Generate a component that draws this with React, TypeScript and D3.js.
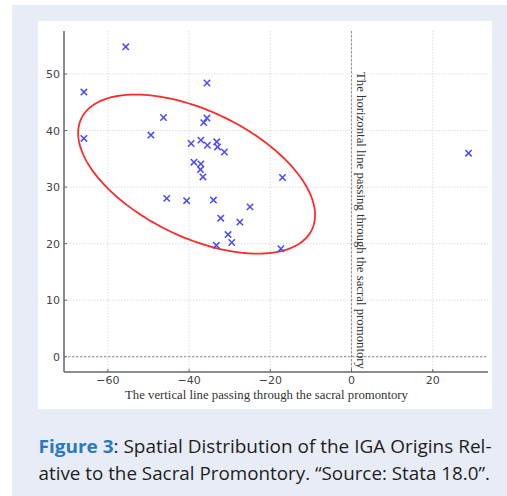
import React from 'react';
import * as d3 from 'd3';

// Data
const xValues = [-55.6, -65.9, -65.9, -35.6, -46.3, -49.4, -35.6, -36.4, -39.5, -37.1, -35.5, -33.2, -33.0, -31.3, -38.8, -37.1, -37.2, -36.6, -17.0, -45.5, -40.6, -34.0, -25.0, -32.2, -27.5, -30.4, -33.3, -29.5, -17.4, 28.8];
const yValues = [54.8, 46.8, 38.6, 48.4, 42.3, 39.2, 42.2, 41.4, 37.7, 38.3, 37.4, 38.0, 37.1, 36.2, 34.4, 34.1, 33.1, 31.8, 31.7, 28.0, 27.6, 27.7, 26.5, 24.5, 23.8, 21.6, 19.7, 20.2, 19.1, 36.0];
const xTicks = [-60, -40, -20, 0, 20];
const yTicks = [0, 10, 20, 30, 40, 50];
const xDomain = [-70.8, 33.6];
const yDomain = [-2.7, 57.6];
// ellipse: center and Cholesky factor of its shape matrix (data units)
const ellipseCenter = [-38.15, 32.3];
const ellipseShape = [29.17, -7.25, 12.05];

const xLabel = 'The vertical line passing through the sacral promontory';
const yLabel = 'The horizontal line passing through the sacral promontory';
const captionBold = 'Figure 3';
const captionLine1 = ': Spatial Distribution of the IGA Origins Rel-';
const captionLine2 = 'ative to the Sacral Promontory. \u201CSource: Stata 18.0\u201D.';

export default function App() {
  const W = 507, H = 496;
  const left = 64, right = 488, top = 31, bottom = 372;
  const x = d3.scaleLinear().domain(xDomain).range([left, right]);
  const y = d3.scaleLinear().domain(yDomain).range([bottom, top]);

  const ts = d3.range(0, 361, 2).map((d) => (d * Math.PI) / 180);
  const ellipsePath = d3
    .line<number>()
    .x((t) => x(ellipseCenter[0] + ellipseShape[0] * Math.cos(t)))
    .y((t) => y(ellipseCenter[1] + ellipseShape[1] * Math.cos(t) + ellipseShape[2] * Math.sin(t)))
    .curve(d3.curveLinearClosed)(ts.slice(0, -1));

  const ms = 3.2;
  const tickFont = '"DejaVu Sans", sans-serif';
  const serif = '"Liberation Serif", "Times New Roman", serif';

  return (
    <svg width={W} height={H} style={{ position: 'absolute', left: 0, top: 0 }}>
      <rect x={0} y={0} width={W} height={H} fill="#ffffff" />
      <rect x={12} y={5} width={W - 12} height={H - 5} fill="#e8ecf6" />
      <rect x={38} y={21} width={454} height={388} fill="#ffffff" />

      {/* grid */}
      {xTicks.filter((t) => t !== 0).map((t) => (
        <line key={'gx' + t} x1={x(t)} x2={x(t)} y1={top} y2={bottom} stroke="#d4d4d4" strokeWidth={0.8} strokeDasharray="1.5,1.5" />
      ))}
      {yTicks.filter((t) => t !== 0).map((t) => (
        <line key={'gy' + t} x1={left} x2={right} y1={y(t)} y2={y(t)} stroke="#d4d4d4" strokeWidth={0.8} strokeDasharray="1.5,1.5" />
      ))}
      {/* zero reference lines */}
      <line x1={x(0)} x2={x(0)} y1={top} y2={bottom} stroke="#8a8a8a" strokeWidth={1} strokeDasharray="2.5,1.5" />
      <line x1={left} x2={right} y1={y(0)} y2={y(0)} stroke="#8a8a8a" strokeWidth={1} strokeDasharray="2.5,1.5" />

      {/* axes */}
      <line x1={left} x2={left} y1={top} y2={bottom} stroke="#666" strokeWidth={1.5} />
      <line x1={left} x2={right} y1={bottom} y2={bottom} stroke="#666" strokeWidth={1.5} />
      {yTicks.map((t) => (
        <g key={'yt' + t}>
          <line x1={left} x2={left + 3} y1={y(t)} y2={y(t)} stroke="#666" strokeWidth={1} />
          <text x={left - 4} y={y(t) + 4} textAnchor="end" fontFamily={tickFont} fontSize={11} fill="#444">{t}</text>
        </g>
      ))}
      {xTicks.map((t) => (
        <g key={'xt' + t}>
          <line x1={x(t)} x2={x(t)} y1={bottom} y2={bottom - 3} stroke="#666" strokeWidth={1} />
          <text x={x(t)} y={bottom + 12} textAnchor="middle" fontFamily={tickFont} fontSize={11} fill="#444">{t < 0 ? '\u2212' + Math.abs(t) : t}</text>
        </g>
      ))}

      {/* rotated label along x=0 */}
      <text transform={`translate(${x(0) + 5},220.5) rotate(90)`} textAnchor="middle" fontFamily={serif} fontSize={12} fill="#333" textLength={297} lengthAdjust="spacingAndGlyphs">{yLabel}</text>
      {/* x label */}
      <text x={266.5} y={399} textAnchor="middle" fontFamily={serif} fontSize={11.5} fill="#333" textLength={283} lengthAdjust="spacingAndGlyphs">{xLabel}</text>

      {/* ellipse */}
      <path d={ellipsePath || ''} fill="none" stroke="#ff2a2a" strokeWidth={1.8} />

      {/* markers */}
      {xValues.map((xv, i) => {
        const cx = x(xv), cy = y(yValues[i]);
        return (
          <path key={'m' + i} d={`M${cx - ms},${cy - ms}L${cx + ms},${cy + ms}M${cx - ms},${cy + ms}L${cx + ms},${cy - ms}`} stroke="#4a4aff" strokeWidth={1.5} fill="none" />
        );
      })}

      {/* caption */}
      <text x={38.5} y={453} fontFamily='"Open Sans", sans-serif' fontSize={18} fill="#1e1e1e" textLength={453} lengthAdjust="spacingAndGlyphs">
        <tspan fontWeight="bold" fill="#2a79bf">{captionBold}</tspan>
        <tspan>{captionLine1}</tspan>
      </text>
      <text x={38.5} y={480} fontFamily='"Open Sans", sans-serif' fontSize={18} fill="#1e1e1e" textLength={451.5} lengthAdjust="spacingAndGlyphs">{captionLine2}</text>
    </svg>
  );
}
